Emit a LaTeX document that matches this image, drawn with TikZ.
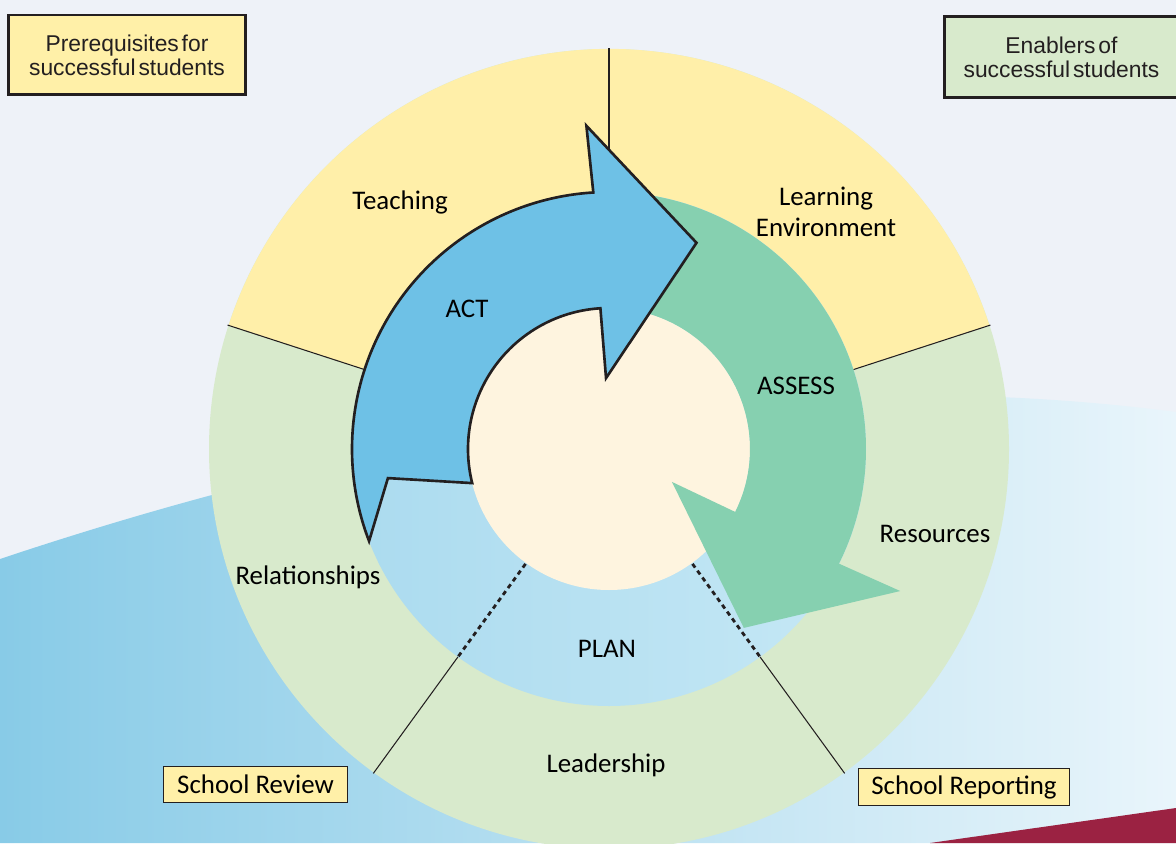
\documentclass[tikz,border=0pt]{standalone}
\usepackage{fontspec}
\setmainfont{Carlito}
\newfontfamily\arialf[WordSpace=0.45]{Liberation Sans}
\definecolor{bgc}{HTML}{EEF2F8}
\definecolor{swl}{HTML}{88CBE7}
\definecolor{swr}{HTML}{E9F5FB}
\definecolor{maroon}{HTML}{9B2242}
\definecolor{ringg}{HTML}{D8EACC}
\definecolor{ringy}{HTML}{FFEFA9}
\definecolor{pl}{HTML}{ABDBEF}
\definecolor{pr}{HTML}{C6E8F5}
\definecolor{cream}{HTML}{FEF4DF}
\definecolor{barrow}{HTML}{6EC1E6}
\definecolor{garrow}{HTML}{86D0B0}
\definecolor{linec}{HTML}{231F20}
\definecolor{boxy}{HTML}{FFF0A8}
\definecolor{boxg}{HTML}{D8EACC}
\begin{document}
\begin{tikzpicture}[x=0.02cm,y=0.02cm,
  seg/.style={draw=linec, line width=0.6pt},
  dsh/.style={draw=linec, line width=1.6pt, dash pattern=on 2.6pt off 2.2pt},
  lbl/.style={font=\fontsize{15.3}{17.6}\selectfont, text=black, align=center, inner sep=0pt},
  cbox/.style={draw=linec, line width=1.7pt, align=center, text=linec,
    font=\arialf\fontsize{13}{13.8}\selectfont, inner sep=0pt},
  sbox/.style={draw=linec, line width=0.8pt, fill=boxy, text=black,
    font=\fontsize{15.3}{17.6}\selectfont, inner sep=0pt},
  arrowline/.style={draw=linec, line width=1.5pt, line join=miter}
]
\clip (0,0) rectangle (1176,843);
\fill[bgc] (0,0) rectangle (1176,843);
\shade[left color=swl, right color=swr] (0,284) .. controls (431,428) and (823,477) .. (1176,431) -- (1176,0) -- (0,0) -- cycle;
\fill[maroon] (930,0) -- (1176,35) -- (1176,0) -- cycle;

\begin{scope}[shift={(609,394)}]
  \fill[ringg] (0,0) circle[radius=400];
  \fill[ringy] (0,0) -- (18:400) arc[start angle=18, end angle=162, radius=400] -- cycle;
  \shade[left color=pl, right color=pr] (0,0) circle[radius=257];
  \fill[cream] (0,0) circle[radius=141];
  \foreach \a in {18,90,162,234,306} \draw[seg] (\a:257) -- (\a:401);
  \foreach \a in {234,306} \draw[dsh] (\a:142) -- (\a:257);
  % ASSESS arrow
  \fill[garrow] (81:257) arc[start angle=81, end angle=-26.5, radius=257]
     -- (-26:324) -- (-53:224) -- (-27.6:71) -- (-26.5:141)
     arc[start angle=-26.5, end angle=74, radius=141] -- (67.5:223) -- cycle;
  % ACT arrow
  \filldraw[fill=barrow, arrowline] (201:257) arc[start angle=201, end angle=93.5, radius=257]
     -- (94:324) -- (67:224) -- (92.4:71) -- (93.5:141)
     arc[start angle=93.5, end angle=194, radius=141] -- (187.5:223) -- cycle;
\end{scope}

\node[lbl] (teach) at (400,641) {Teaching};
\node[lbl] (learn) at (826,631) {Learning\\Environment};
\node[lbl] (act) at (467,534) {ACT};
\node[lbl] (assess) at (796,457) {ASSESS};
\node[lbl] (res) at (935,309) {Resources};
\node[lbl] (rel) at (308,266) {Relationships};
\node[lbl] (plan) at (607,194) {PLAN};
\node[lbl] (lead) at (606,78) {Leadership};

\node[cbox, fill=boxy, minimum width=4.74cm, minimum height=1.6cm] (prereq) at (127,788) {Prerequisites for\\successful students};
\node[cbox, fill=boxg, minimum width=4.68cm, minimum height=1.62cm] (enab) at (1061.5,786) {Enablers of\\successful students};
\node[sbox, minimum width=3.67cm, minimum height=0.71cm] (review) at (255.5,58.5) {School Review};
\node[sbox, minimum width=4.21cm, minimum height=0.73cm, text depth=0.25em] (report) at (964,56) {School Reporting};
\end{tikzpicture}
\end{document}
